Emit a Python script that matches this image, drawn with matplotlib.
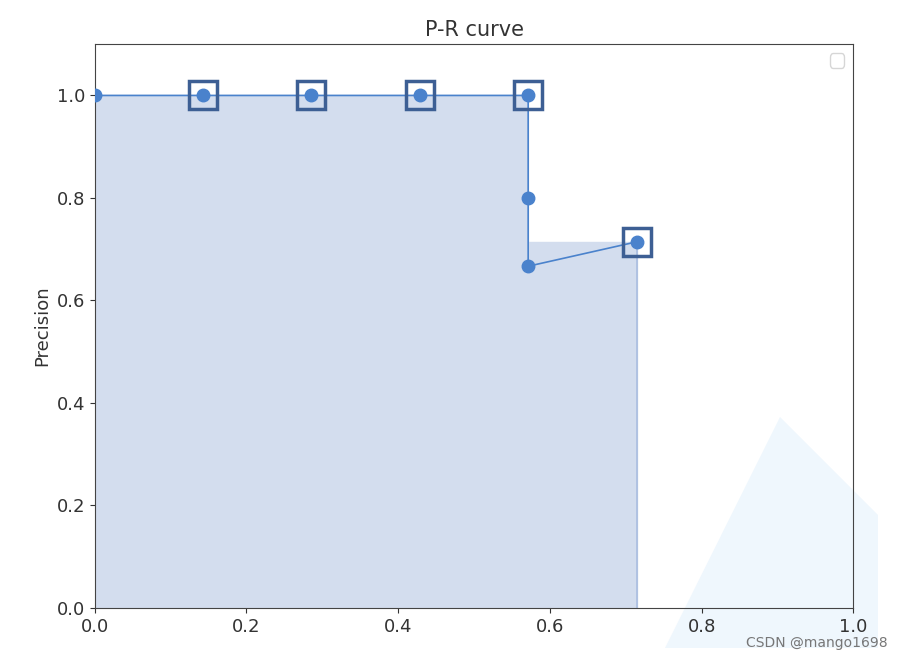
import matplotlib
import matplotlib.pyplot as plt
from matplotlib.patches import Polygon

matplotlib.use("agg")

# precision / recall points, in ranking order
recall = [0.0, 0.1429, 0.2857, 0.4286, 0.5714, 0.5714, 0.5714, 0.7143]
precision = [1.0, 1.0, 1.0, 1.0, 1.0, 0.8, 0.6667, 0.7143]

# interpolated points (marked with squares)
interp_recall = [0.1429, 0.2857, 0.4286, 0.5714, 0.7143]
interp_precision = [1.0, 1.0, 1.0, 1.0, 0.7143]

# step area under interpolated curve
area_recall = [0.0, 0.5714, 0.7143]
area_precision = [1.0, 0.7143, 0.7143]

plt.rcParams["font.size"] = 13
plt.rcParams["text.color"] = "#333333"
plt.rcParams["axes.labelcolor"] = "#333333"
plt.rcParams["xtick.color"] = "#333333"
plt.rcParams["ytick.color"] = "#333333"

fig = plt.figure(figsize=(9.02, 6.6), dpi=100)
ax = fig.add_axes([0.105, 0.079, 0.841, 0.854])
ax.patch.set_alpha(0)

# faint watermark shape behind the plot
tri = Polygon([(665 / 902, 1 - 648 / 660), (780 / 902, 1 - 417 / 660),
               (878 / 902, 1 - 515 / 660), (878 / 902, 1 - 648 / 660)],
              closed=True, transform=fig.transFigure, facecolor="#eff7fd",
              edgecolor="none", zorder=-10)
fig.patches.append(tri)

ax.fill_between(area_recall, area_precision, step="post",
                color="#d3ddee", zorder=1)
ax.plot([0.7143, 0.7143], [0, 0.7143], color="#a9bde0", lw=1.2, zorder=2)
ax.plot(recall, precision, color="#4a82cc", lw=1.2, marker="o",
        markersize=9, zorder=3)
ax.plot(interp_recall, interp_precision, linestyle="none", marker="s",
        markersize=20, markerfacecolor="none", markeredgecolor="#3d5f94",
        markeredgewidth=2.5, zorder=4)

ax.set_xlim(0, 1)
ax.set_ylim(0, 1.1)
ax.set_yticks([0.0, 0.2, 0.4, 0.6, 0.8, 1.0])
ax.set_title("P-R curve", fontsize=15)
ax.set_ylabel("Precision")
for s in ax.spines.values():
    s.set_color("#444444")
ax.legend()

fig.text(888 / 902, 1 - 643 / 660, "CSDN @mango1698", ha="right",
         va="center", color="#777777", fontsize=10)

fig.savefig("out.png", dpi=100)
